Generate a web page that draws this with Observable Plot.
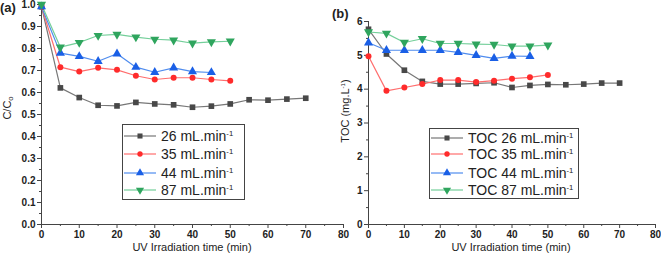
<!DOCTYPE html>
<html><head><meta charset="utf-8">
<script src="https://cdn.jsdelivr.net/npm/d3@7"></script>
<script src="https://cdn.jsdelivr.net/npm/@observablehq/plot@0.6"></script>
<style>
html,body{margin:0;padding:0;background:#fff;}
#wrap{position:relative;width:661px;height:256px;font-family:"Liberation Sans",Arial,sans-serif;color:#222;overflow:hidden;}
#wrap svg{position:absolute;top:0;}
.t{position:absolute;white-space:nowrap;line-height:1;}
.leg{position:absolute;border:1px solid #444;background:#fff;}
.row{position:absolute;left:0;height:14px;display:flex;align-items:center;}
.row span{font-size:14px;margin-left:4px;}
sup{font-size:0.55em;vertical-align:0.6em;}
sub{font-size:0.7em;vertical-align:-0.3em;}
</style>
</head><body>
<div id="wrap"></div>
<script>
// ---- data ----
const times = [0,5,10,15,20,25,30,35,40,45,50,55,60,65,70];
const flows = ["26","35","44","87"];
// panel (a) C/C0
const cc26 = [0.99,0.621,0.577,0.542,0.539,0.555,0.548,0.544,0.533,0.538,0.548,0.567,0.565,0.570,0.574];
const cc35 = [0.99,0.715,0.695,0.712,0.703,0.676,0.659,0.667,0.667,0.659,0.653];
const cc44 = [0.99,0.779,0.764,0.742,0.776,0.715,0.692,0.712,0.695,0.691];
const cc87 = [1.0,0.806,0.827,0.859,0.864,0.852,0.842,0.838,0.824,0.830,0.833];
// panel (b) TOC
const toc26 = [5.77,5.04,4.56,4.23,4.15,4.15,4.17,4.19,4.05,4.11,4.14,4.13,4.15,4.18,4.18];
const toc35 = [4.97,3.95,4.05,4.15,4.27,4.27,4.21,4.25,4.31,4.35,4.42];
const toc44 = [5.37,5.15,5.15,5.15,5.15,5.09,5.00,4.91,4.98,4.97];
const toc87 = [5.69,5.65,5.38,5.49,5.35,5.35,5.33,5.32,5.27,5.27,5.30];
const xTicks = [0,10,20,30,40,50,60,70,80];
const xMinor = [5,15,25,35,45,55,65,75];
const yTicksA = [0,0.1,0.2,0.3,0.4,0.5,0.6,0.7,0.8,0.9,1.0];
const yMinorA = [0.05,0.15,0.25,0.35,0.45,0.55,0.65,0.75,0.85,0.95];
const yTicksB = [0,1,2,3,4,5,6];
const yMinorB = [0.5,1.5,2.5,3.5,4.5,5.5];

// ---- styles ----
const lineColors = ["#777777","#ff6e6e","#4f8cee","#74cf9a"];
const dotColors  = ["#484848","#ff2b2b","#1a5fe6","#2fa55e"];
const triDown = {draw(ctx, size){
  const y = -Math.sqrt(size/(Math.sqrt(3)*3));
  ctx.moveTo(0,-2*y); ctx.lineTo(-Math.sqrt(3)*y, y); ctx.lineTo(Math.sqrt(3)*y, y); ctx.closePath();
}};
const symbols = [d3.symbolSquare, d3.symbolCircle, d3.symbolTriangle, triDown];
const symbolSize = [32, 28, 36, 36];

function rows(series){
  const out=[];
  series.forEach((vals,i)=>vals.forEach((v,j)=>out.push({t:times[j],v,i})));
  return out;
}
const dataA = rows([cc26,cc35,cc44,cc87]);
const dataB = rows([toc26,toc35,toc44,toc87]);

function panel(data, yDomain, yTicks, yMinor, yFmt, opts){
  return Plot.plot({
    width: opts.width, height: 256,
    marginLeft: opts.ml, marginRight: opts.mr, marginTop: opts.mt, marginBottom: 32,
    x: {domain:[0,80]},
    y: {domain: yDomain},
    style: {overflow:"visible", background:"transparent", fontFamily:"Liberation Sans, Arial, sans-serif"},
    marks: [
      Plot.axisX({ticks: xTicks, tickSize:4, tickPadding:2, label:null, fontWeight:"bold", fontSize:10, stroke:"#444", fill:"#222"}),
      Plot.axisX({ticks: xMinor, tickSize:2, tickFormat:()=>"", label:null, stroke:"#444"}),
      Plot.axisY({ticks: yTicks, tickSize:4, tickPadding:2, tickFormat:yFmt, label:null, fontWeight:"bold", fontSize:10, stroke:"#444", fill:"#222"}),
      Plot.axisY({ticks: yMinor, tickSize:2, tickFormat:()=>"", label:null, stroke:"#444"}),
      Plot.ruleX([0], {stroke:"#444"}),
      Plot.ruleY([yDomain[0]], {stroke:"#444"}),
      Plot.line(data, {x:"t", y:"v", z:"i", stroke:d=>lineColors[d.i], strokeWidth:1.2}),
      ...[0,1,2,3].map(k=>Plot.dot(data.filter(d=>d.i===k), {x:"t", y:"v", fill:dotColors[k], symbol:symbols[k], r:Math.sqrt(symbolSize[k]/Math.PI), stroke:"none"}))
    ]
  });
}

const wrap = document.getElementById("wrap");
const svgA = panel(dataA, [0,1], yTicksA, yMinorA, d3.format(".1f"), {width:345, ml:41, mr:2, mt:4});
svgA.style.left = "0px";
const svgB = panel(dataB, [0,6], yTicksB, yMinorB, d3.format("d"), {width:331, ml:38, mr:6, mt:21});
svgB.style.left = "330px";
wrap.appendChild(svgA);
wrap.appendChild(svgB);

function text(html, css){
  const d=document.createElement("div"); d.className="t"; d.innerHTML=html; Object.assign(d.style, css); wrap.appendChild(d); return d;
}
text("(a)", {left:"0px", top:"1px", fontSize:"13px", fontWeight:"bold"});
text("(b)", {left:"332px", top:"7px", fontSize:"13px", fontWeight:"bold"});
text("UV Irradiation time (min)", {left:"192px", top:"242px", fontSize:"11px", transform:"translateX(-50%)"});
text("UV Irradiation time (min)", {left:"511px", top:"242px", fontSize:"11px", transform:"translateX(-50%)"});
text("C/C<sub>o</sub>", {left:"8px", top:"108px", fontSize:"11px", transform:"translate(-50%,-50%) rotate(-90deg)"});
text("TOC (mg.L<sup>-1</sup>)", {left:"345px", top:"111px", fontSize:"11px", transform:"translate(-50%,-50%) rotate(-90deg)"});

function legend(box, prefix){
  const L=document.createElement("div"); L.className="leg";
  Object.assign(L.style,{left:box.x+"px", top:box.y+"px", width:box.w+"px", height:box.h+"px"});
  flows.forEach((f,i)=>{
    const r=document.createElement("div"); r.className="row";
    r.style.top=(box.rows[i]-7)+"px";
    const s=d3.create("svg").attr("width",34).attr("height",14).style("position","static");
    s.append("line").attr("x1",1).attr("x2",33).attr("y1",7).attr("y2",7).attr("stroke",lineColors[i]).attr("stroke-width",1.2);
    s.append("path").attr("transform","translate(17,7)").attr("d",d3.symbol(symbols[i], symbolSize[i]*0.8)()).attr("fill",dotColors[i]);
    r.appendChild(s.node());
    const sp=document.createElement("span"); sp.innerHTML=prefix+f+" mL.min<sup>-1</sup>";
    r.appendChild(sp);
    L.appendChild(r);
  });
  wrap.appendChild(L);
}
legend({x:122,y:124,w:121,h:74,rows:[11,29,47.5,65]}, "");
legend({x:429,y:128,w:148,h:69,rows:[8.5,25.3,43.5,61]}, "TOC ");
</script>
</body></html>
